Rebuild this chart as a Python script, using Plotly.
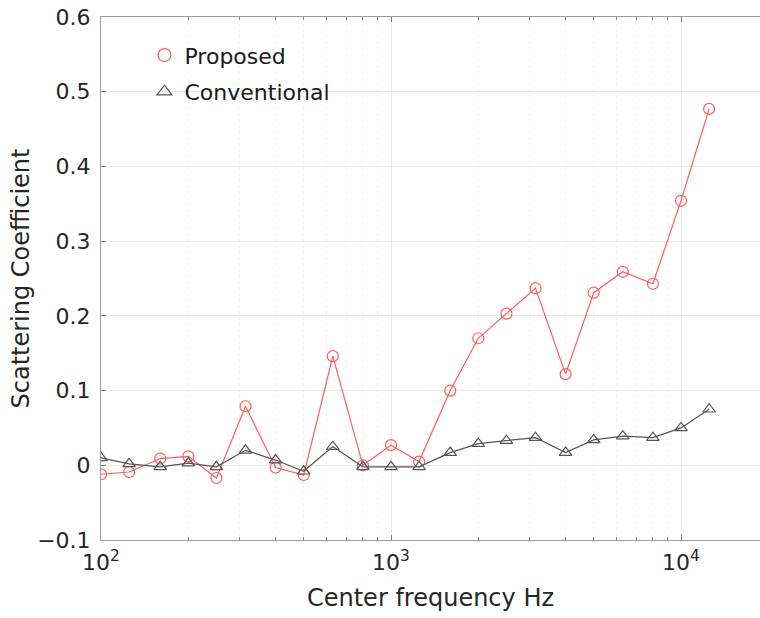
import plotly.graph_objects as go

freq = [100, 125, 160, 200, 250, 315, 400, 500, 630, 800, 1000, 1250,
        1600, 2000, 2500, 3150, 4000, 5000, 6300, 8000, 10000, 12500]
proposed = [-0.012, -0.009, 0.009, 0.012, -0.017, 0.079, -0.003, -0.013, 0.146, 0.0,
            0.027, 0.005, 0.100, 0.170, 0.203, 0.237, 0.122, 0.231, 0.259, 0.243,
            0.354, 0.477]
conventional = [0.010, 0.002, -0.002, 0.003, -0.002, 0.020, 0.007, -0.008, 0.025, -0.002,
                -0.002, -0.002, 0.017, 0.029, 0.033, 0.037, 0.017, 0.034, 0.039, 0.037,
                0.050, 0.075]

major_x = [100, 1000, 10000]
major_x_text = ["10<sup>2</sup>", "10<sup>3</sup>", "10<sup>4</sup>"]
minor_x = [m * d for d in (100, 1000, 10000) for m in range(2, 10)]
y_ticks = [-0.1, 0, 0.1, 0.2, 0.3, 0.4, 0.5, 0.6]

font = "DejaVu Sans"
red = "#ff5c5c"
gray = "#555555"

fig = go.Figure()
fig.add_trace(go.Scatter(
    x=freq, y=proposed, name="Proposed", mode="lines+markers", showlegend=False,
    line=dict(color=red, width=1.2),
    marker=dict(symbol="circle-open", size=11, color=red, line=dict(width=1.2)),
))
fig.add_trace(go.Scatter(
    x=freq, y=conventional, name="Conventional", mode="lines+markers", showlegend=False,
    line=dict(color=gray, width=1.2),
    marker=dict(symbol="triangle-up-open", size=11, color=gray, line=dict(width=1.2)),
))
# legend entries (marker only, as in the reference)
fig.add_trace(go.Scatter(
    x=[None], y=[None], name="Proposed", mode="markers", legendgroup="a",
    marker=dict(symbol="circle-open", size=13, color=red, line=dict(width=1.2)),
))
fig.add_trace(go.Scatter(
    x=[None], y=[None], name="Conventional", mode="markers", legendgroup="b",
    marker=dict(symbol="triangle-up-open", size=13, color=gray, line=dict(width=1.2)),
))

fig.update_layout(
    width=760, height=618,
    margin=dict(l=101, r=0, t=17, b=78),
    paper_bgcolor="white", plot_bgcolor="white",
    font=dict(family=font, size=22, color="#262626"),
    showlegend=True,
    legend=dict(x=0.066, y=0.967, xanchor="left", yanchor="top",
                bgcolor="rgba(0,0,0,0)", font=dict(size=22, color="#1a1a1a"),
                tracegroupgap=5, itemwidth=30),
)
fig.update_xaxes(
    type="log", range=[2, 4.2724], automargin=False,
    tickvals=major_x, ticktext=major_x_text,
    showline=True, linecolor="#9a9a9a", linewidth=1, mirror="ticks",
    ticks="inside", ticklen=5, tickcolor="#7a7a7a", ticklabelstandoff=3,
    showgrid=True, gridcolor="#e8e8e8", gridwidth=1,
    minor=dict(tickvals=minor_x, ticks="inside", ticklen=3, tickcolor="#8a8a8a",
               showgrid=True, gridcolor="#f0f0f0", griddash="dot"),
    zeroline=False,
    title=dict(text="Center frequency Hz", font=dict(size=24), standoff=14),
    tickfont=dict(size=22),
)
fig.update_yaxes(
    range=[-0.1, 0.6], tickvals=y_ticks, automargin=False,
    showline=True, linecolor="#9a9a9a", linewidth=1,
    ticks="inside", ticklen=5, tickcolor="#7a7a7a", ticklabelstandoff=5,
    showgrid=True, gridcolor="#e8e8e8", gridwidth=1,
    zeroline=False,
    title=dict(text="Scattering Coefficient", font=dict(size=24), standoff=0),
    tickfont=dict(size=22),
)

fig.write_html(
    "out.html",
    config={"displayModeBar": False},
    post_script="document.body.style.margin='0';document.body.style.overflow='hidden';",
)
